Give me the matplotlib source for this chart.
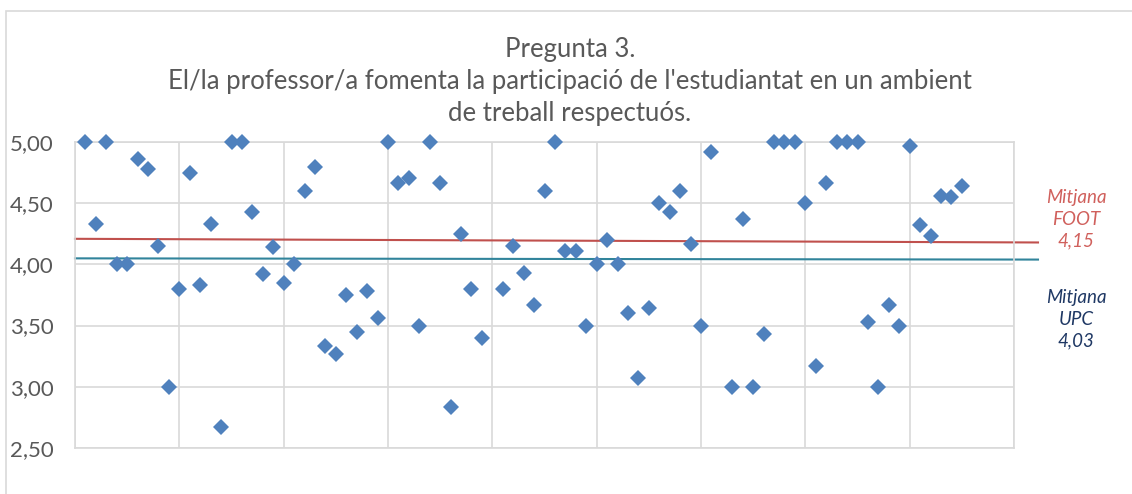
import matplotlib
matplotlib.use("Agg")
import matplotlib.pyplot as plt
from matplotlib.patches import Rectangle
import numpy as np

# one score per group, in order (nan = no value shown)
scores = [5.00, 4.33, 5.00, 4.00, 4.00, 4.86, 4.78, 4.15, 3.00, 3.80,
          4.75, 3.83, 4.33, 2.67, 5.00, 5.00, 4.43, 3.92, 4.14, 3.85,
          4.00, 4.60, 4.80, 3.33, 3.27, 3.75, 3.45, 3.78, 3.56, 5.00,
          4.67, 4.71, 3.50, 5.00, 4.67, 2.83, 4.25, 3.80, 3.40, np.nan,
          3.80, 4.15, 3.93, 3.67, 4.60, 5.00, 4.11, 4.11, 3.50, 4.00,
          4.20, 4.00, 3.60, 3.07, 3.64, 4.50, 4.43, 4.60, 4.17, 3.50,
          4.92, np.nan, 3.00, 4.37, 3.00, 3.43, 5.00, 5.00, 5.00, 4.50,
          3.17, 4.67, 5.00, 5.00, 5.00, 3.53, 3.00, 3.67, 3.50, 4.97,
          4.32, 4.23, 4.56, 4.55, 4.64]
positions = np.arange(1, len(scores) + 1)

mean_foot = [4.21, 4.18]   # drawn line, left and right end
mean_upc = [4.05, 4.04]
label_foot = "Mitjana\nFOOT\n4,15"
label_upc = "Mitjana\nUPC\n4,03"

title_lines = ["Pregunta 3.",
               "El/la professor/a fomenta la participació de l'estudiantat en un ambient",
               "de treball respectuós."]

font = "Lato"
W, H = 1132, 494
fig = plt.figure(figsize=(W / 100, H / 100), dpi=100)
ax = fig.add_axes([75 / W, 1 - 447.7 / H, (1014 - 75) / W, (447.7 - 142.3) / H])

grid_c = "#D9D9D9"
ax.set_xlim(0, 90)
ax.set_ylim(2.5, 5.0)
ax.set_xticks(np.arange(0, 91, 10))
ax.set_yticks(np.arange(2.5, 5.01, 0.5))
ax.grid(True, color=grid_c, linewidth=1.2)
ax.set_axisbelow(True)
for s in ax.spines.values():
    s.set_color(grid_c)
    s.set_linewidth(1.2)
ax.tick_params(length=0, pad=15.5)
ax.set_xticklabels([])
ax.set_yticklabels(["{:.2f}".format(v).replace(".", ",") for v in ax.get_yticks()],
                   fontfamily=font, fontsize=16, color="#595959")

ax.plot([0, 92.3], mean_foot, color="#C0504D", linewidth=1.5, clip_on=False, zorder=2)
ax.plot([0, 92.3], mean_upc, color="#31849B", linewidth=1.5, clip_on=False, zorder=2)

ax.plot(positions, scores, linestyle="none", marker="D", markersize=7.8,
        markerfacecolor="#4F81BD", markeredgewidth=0, zorder=3, clip_on=False)

fig.text(1076 / W, 1 - 219 / H, label_foot, ha="center", va="center", style="italic",
         fontfamily=font, fontsize=13.5, color="#D0605C", linespacing=1.32)
fig.text(1076 / W, 1 - 319 / H, label_upc, ha="center", va="center", style="italic",
         fontfamily=font, fontsize=13.5, color="#1F3864", linespacing=1.32)

for i, line in enumerate(title_lines):
    fig.text(570 / W, 1 - (57 + 32 * i) / H, line, ha="center", va="baseline",
             fontfamily=font, fontsize=18.5, color="#595959")

fig.add_artist(Rectangle((6 / W, -0.1), 1.2, 1.1 - 11 / H, transform=fig.transFigure,
                         fill=False, edgecolor=grid_c, linewidth=1.2))

fig.savefig("out.png", dpi=100)
